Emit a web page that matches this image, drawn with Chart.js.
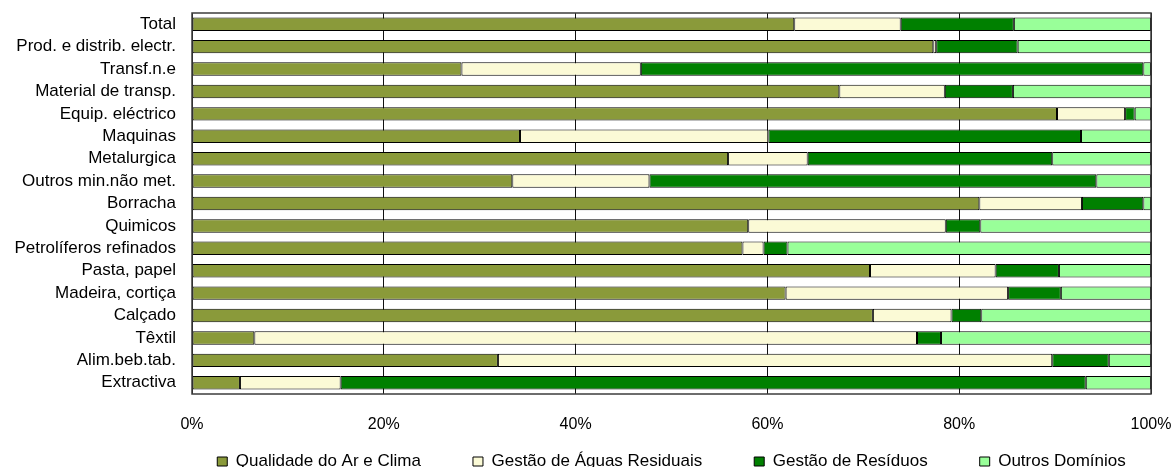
<!DOCTYPE html>
<html>
<head>
<meta charset="utf-8">
<title>Investimento em ambiente por sector</title>
<script src="https://cdn.jsdelivr.net/npm/chart.js@4/dist/chart.umd.min.js"></script>
<style>
body{margin:0;background:#fff}
#wrap{width:1174px;height:467px}
</style>
</head>
<body>
<div id="wrap"><canvas id="chart"></canvas></div>
<script>

/* ---------------- DATA ---------------- */

const sectors = [
"Total",
"Prod. e distrib. electr.",
"Transf.n.e",
"Material de transp.",
"Equip. eléctrico",
"Maquinas",
"Metalurgica",
"Outros min.não met.",
"Borracha",
"Quimicos",
"Petrolíferos refinados",
"Pasta, papel",
"Madeira, cortiça",
"Calçado",
"Têxtil",
"Alim.beb.tab.",
"Extractiva"
]

// shares in % of each sector's total
const qualidadeAr    = [62.8,77.3,28.1,67.5,90.2,34.2,55.9,33.4,82.1,58.0,57.4,70.7,61.9,71.0, 6.5,31.9, 5.0]
const aguasResiduais = [11.1, 0.3,18.7,11.0, 7.1,25.9, 8.3,14.3,10.7,20.6, 2.2,13.1,23.2, 8.2,69.1,57.8,10.5]
const residuos       = [11.8, 8.5,52.4, 7.1, 1.0,32.6,25.5,46.6, 6.4, 3.6, 2.5, 6.6, 5.5, 3.1, 2.5, 5.9,77.7]
const outrosDominios = [14.3,13.9, 0.8,14.4, 1.7, 7.3,10.3, 5.7, 0.8,17.8,37.9, 9.6, 9.4,17.7,21.9, 4.4, 6.8]

const tickLabels = ["0%","20%","40%","60%","80%","100%"]


/* ---------------- PLUGINS ---------------- */

// frame round the plot area
const plotBorder = {
id:"plotBorder",
afterDatasetsDraw(chart){
const {ctx, chartArea:a} = chart
ctx.save()
ctx.strokeStyle = "#3c3c3c"
ctx.lineWidth = 1.5
ctx.strokeRect(a.left, a.top, a.right - a.left, a.bottom - a.top)
ctx.restore()
}
}

// legend row centred under the plot instead of the whole canvas
const legendUnderPlot = {
id:"legendUnderPlot",
afterLayout(chart){
const lg = chart.legend
const a = chart.chartArea
const shift = (a.left + a.right) / 2 - (lg.left + lg.right) / 2
lg.left += shift
lg.right += shift
}
}


/* ---------------- CHART ---------------- */

const font = "'Liberation Sans', Arial, sans-serif"

const series = (label, data, color) => ({
label:label,
data:data,
backgroundColor:color,
borderColor:"#000",
borderWidth:1,
borderSkipped:false,
barPercentage:0.6,
categoryPercentage:1
})

new Chart(document.getElementById("chart"),{
type:"bar",
data:{
labels:sectors,
datasets:[
series("Qualidade do Ar e Clima", qualidadeAr, "#8a9a3a"),
series("Gestão de Águas Residuais", aguasResiduais, "#fbfad6"),
series("Gestão de Resíduos", residuos, "#008000"),
series("Outros Domínios", outrosDominios, "#99ff99")
]
},
options:{
indexAxis:"y",
responsive:true,
maintainAspectRatio:false,
animation:false,
layout:{padding:{left:0, top:13, right:23, bottom:-13}},
scales:{
x:{
stacked:true,
min:0,
max:100,
grid:{color:"#111", lineWidth:1, drawTicks:false},
border:{display:false},
ticks:{
stepSize:20,
mirror:true,
padding:-40,
color:"#000",
font:{family:font, size:16},
callback:(v, i) => tickLabels[i]
},
afterFit(scale){ scale.height = 7 }
},
y:{
stacked:true,
grid:{display:false, drawTicks:false},
border:{display:false},
ticks:{
autoSkip:false,
padding:16,
color:"#000",
font:{family:font, size:17}
},
afterFit(scale){
scale.width = 192
scale.paddingTop = 0
scale.paddingBottom = 0
}
}
},
plugins:{
legend:{
position:"bottom",
labels:{
boxWidth:10,
boxHeight:9,
padding:52,
color:"#000",
font:{family:font, size:17}
}
},
tooltip:{enabled:false}
}
},
plugins:[plotBorder, legendUnderPlot]
})

</script>
</body>
</html>
